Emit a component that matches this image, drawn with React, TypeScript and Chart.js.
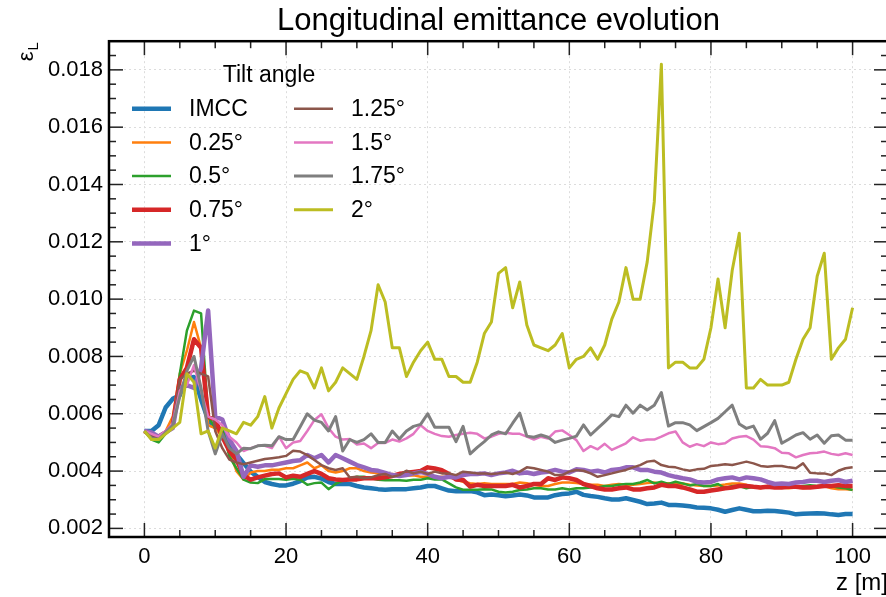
import React, { useEffect, useRef } from "react";
import { Chart, registerables } from "chart.js";

Chart.register(...registerables);

const FONT = "'Liberation Sans', Arial, Helvetica, sans-serif";

const Z = [
  0, 1, 2, 3, 4, 5, 6, 7, 8, 9, 10, 11, 12, 13, 14, 15, 16, 17, 18, 19, 20,
  21, 22, 23, 24, 25, 26, 27, 28, 29, 30, 31, 32, 33, 34, 35, 36, 37, 38, 39, 40,
  41, 42, 43, 44, 45, 46, 47, 48, 49, 50, 51, 52, 53, 54, 55, 56, 57, 58, 59, 60,
  61, 62, 63, 64, 65, 66, 67, 68, 69, 70, 71, 72, 73, 74, 75, 76, 77, 78, 79, 80,
  81, 82, 83, 84, 85, 86, 87, 88, 89, 90, 91, 92, 93, 94, 95, 96, 97, 98, 99, 100,
];

const IMCC = [
  0.0054, 0.0054, 0.0056, 0.00622, 0.00652, 0.00665, 0.00725, 0.00728, 0.0065, 0.00578,
  0.00552, 0.0054, 0.00492, 0.00458, 0.00428, 0.00398, 0.0038, 0.00362, 0.00355, 0.0035,
  0.0035, 0.00356, 0.00365, 0.00378, 0.0038, 0.00374, 0.00362, 0.00355, 0.00355, 0.00355,
  0.00348, 0.00343, 0.0034, 0.00337, 0.00335, 0.00337, 0.00337, 0.00337, 0.0034, 0.00343,
  0.00348, 0.00348, 0.0034, 0.00332, 0.0033, 0.0033, 0.0033, 0.00326, 0.00316, 0.00318,
  0.00316, 0.00312, 0.00315, 0.00318, 0.00315, 0.00308, 0.00308, 0.00308, 0.00316, 0.0032,
  0.00322, 0.00328, 0.00317, 0.00313, 0.0031, 0.00305, 0.00301, 0.00301, 0.00305, 0.00299,
  0.00293, 0.00285, 0.00287, 0.0029, 0.00282, 0.00282, 0.0028, 0.00277, 0.00273, 0.00272,
  0.0027, 0.00265, 0.00258, 0.00264, 0.0027, 0.00265, 0.0026, 0.0026, 0.00262, 0.00261,
  0.00258, 0.00255, 0.00249, 0.00251, 0.00252, 0.00253, 0.00252, 0.00249, 0.00247, 0.0025,
  0.0025,
];

const TILT_025 = [
  0.0054, 0.00517, 0.00512, 0.0054, 0.0059, 0.0074, 0.0082, 0.0092, 0.0083, 0.0056,
  0.0055, 0.0052, 0.0047, 0.004, 0.0037, 0.00395, 0.004, 0.004, 0.00405, 0.00405,
  0.0041, 0.0041, 0.0042, 0.0043, 0.0041, 0.0042, 0.004, 0.00395, 0.004, 0.0041,
  0.0041, 0.004, 0.00395, 0.00392, 0.00385, 0.0039, 0.00385, 0.00385, 0.00385, 0.0038,
  0.0038, 0.00378, 0.0038, 0.00378, 0.0037, 0.00363, 0.00358, 0.00355, 0.00358, 0.00355,
  0.00355, 0.00355, 0.00355, 0.0036, 0.00358, 0.00352, 0.00348, 0.00348, 0.00355, 0.0036,
  0.0036, 0.00358, 0.00355, 0.00352, 0.00352, 0.00348, 0.00352, 0.00355, 0.00352, 0.00352,
  0.00355, 0.00358, 0.0036, 0.00355, 0.00358, 0.00355, 0.00357, 0.00352, 0.0035, 0.00348,
  0.00348, 0.0035, 0.00353, 0.00357, 0.00357, 0.00352, 0.00345, 0.0034, 0.00348, 0.00345,
  0.00343, 0.0034, 0.00343, 0.0034, 0.00343, 0.00343, 0.00348, 0.0034, 0.00337, 0.00337,
  0.00335,
];

const TILT_05 = [
  0.0054, 0.0051, 0.005, 0.0053, 0.0055, 0.0074, 0.0089, 0.0096, 0.0095, 0.0059,
  0.0055, 0.0055, 0.0045, 0.0041, 0.0037, 0.0036, 0.00358, 0.00372, 0.00372, 0.00372,
  0.0037, 0.00373, 0.0037, 0.00352, 0.00358, 0.0036, 0.00337, 0.00355, 0.00367, 0.00375,
  0.0038, 0.0038, 0.00375, 0.0037, 0.00368, 0.00368, 0.00368, 0.00366, 0.0037, 0.0037,
  0.00375, 0.00371, 0.00371, 0.00357, 0.00343, 0.00335, 0.00335, 0.00335, 0.00337, 0.00336,
  0.00328, 0.00325, 0.00328, 0.00334, 0.00336, 0.0034, 0.0034, 0.00336, 0.00336, 0.0034,
  0.00336, 0.0034, 0.0034, 0.00343, 0.00343, 0.00348, 0.00348, 0.00352, 0.00355, 0.00355,
  0.0036, 0.00369, 0.00357, 0.00363, 0.00355, 0.00363, 0.00357, 0.0035, 0.00355, 0.00348,
  0.00348, 0.00355, 0.0034, 0.00348, 0.00348, 0.0034, 0.00345, 0.00343, 0.00345, 0.00348,
  0.00345, 0.00343, 0.00345, 0.00348, 0.00351, 0.00348, 0.00351, 0.00348, 0.00343, 0.0034,
  0.00334,
];

const TILT_075 = [
  0.0054, 0.00525, 0.0052, 0.00535, 0.0056, 0.0072, 0.0076, 0.0086, 0.0083, 0.0059,
  0.0058, 0.0052, 0.0047, 0.0044, 0.00385, 0.0037, 0.00378, 0.00384, 0.0039, 0.00392,
  0.00378, 0.00384, 0.0038, 0.0039, 0.004, 0.0039, 0.00375, 0.00371, 0.00369, 0.00371,
  0.00371, 0.00375, 0.00375, 0.00375, 0.00378, 0.00383, 0.0039, 0.00394, 0.00397, 0.004,
  0.00413, 0.00409, 0.00403, 0.0039, 0.00371, 0.00369, 0.00346, 0.00352, 0.00348, 0.00348,
  0.00348, 0.00348, 0.00352, 0.00343, 0.00348, 0.00355, 0.00355, 0.00375, 0.00369, 0.00378,
  0.00375, 0.00369, 0.00355, 0.00348, 0.0034, 0.00336, 0.00336, 0.0034, 0.00343, 0.00336,
  0.00336, 0.0034, 0.00343, 0.00352, 0.00348, 0.00348, 0.00343, 0.00336, 0.00328, 0.00328,
  0.00332, 0.00336, 0.0034, 0.00343, 0.00348, 0.00348, 0.00345, 0.00343, 0.00345, 0.00343,
  0.00343, 0.00345, 0.00345, 0.00343, 0.00343, 0.00345, 0.00348, 0.00348, 0.00351, 0.00348,
  0.00348,
];

const TILT_1 = [
  0.0054, 0.00535, 0.0052, 0.00535, 0.0055, 0.0069, 0.007, 0.0069, 0.0076, 0.0096,
  0.0059, 0.0058, 0.0051, 0.0047, 0.0038, 0.0042, 0.00415, 0.0042, 0.0042, 0.00425,
  0.0043, 0.00435, 0.00438, 0.00456, 0.00445, 0.00456, 0.0043, 0.00456, 0.00445, 0.00433,
  0.00421, 0.00413, 0.00404, 0.00401, 0.00394, 0.00386, 0.00383, 0.00386, 0.00392, 0.00397,
  0.0039, 0.0038, 0.00375, 0.0038, 0.00378, 0.00386, 0.0039, 0.0039, 0.00392, 0.00386,
  0.00392, 0.00395, 0.00401, 0.00392, 0.00395, 0.0039, 0.00395, 0.00398, 0.00404, 0.00398,
  0.00395, 0.00406, 0.00404, 0.00398, 0.00401, 0.00395, 0.00404, 0.00406, 0.00413, 0.00413,
  0.00404, 0.00404, 0.00398, 0.00395, 0.00386, 0.0038, 0.00375, 0.00371, 0.00362, 0.0036,
  0.00362, 0.00371, 0.00375, 0.00378, 0.00371, 0.00378, 0.00375, 0.00371, 0.00362, 0.00355,
  0.00357, 0.00355, 0.0036, 0.00362, 0.00366, 0.00366, 0.00362, 0.00366, 0.00369, 0.00362,
  0.00366,
];

const TILT_125 = [
  0.0054, 0.00525, 0.00515, 0.00535, 0.00555, 0.0072, 0.0074, 0.0075, 0.0074, 0.0073,
  0.0054, 0.0048, 0.0044, 0.0043, 0.00424, 0.0043, 0.00436, 0.00442, 0.00445, 0.00448,
  0.00453, 0.00471, 0.00468, 0.00456, 0.00439, 0.00421, 0.0041, 0.00404, 0.0041, 0.00378,
  0.0038, 0.00375, 0.00378, 0.00386, 0.0039, 0.0038, 0.00386, 0.00401, 0.00392, 0.00398,
  0.0039, 0.00398, 0.00392, 0.00392, 0.00386, 0.00398, 0.00395, 0.00392, 0.00392, 0.0039,
  0.00392, 0.00395, 0.0039, 0.00398, 0.00413, 0.0041, 0.00404, 0.00398, 0.00386, 0.00386,
  0.00398, 0.00404, 0.00401, 0.00392, 0.0038, 0.00386, 0.00392, 0.00398, 0.00404, 0.00413,
  0.00421, 0.00433, 0.00436, 0.00421, 0.00415, 0.00413, 0.00406, 0.00401, 0.00406, 0.00408,
  0.00418, 0.0042, 0.00424, 0.00421, 0.00427, 0.00433, 0.00427, 0.00418, 0.00415, 0.00418,
  0.00418, 0.00413, 0.0041, 0.00427, 0.00394, 0.00392, 0.00392, 0.00386, 0.00401, 0.0041,
  0.00413,
];

const TILT_15 = [
  0.0054, 0.0053, 0.0052, 0.0054, 0.00565, 0.0068, 0.007, 0.0077, 0.0068, 0.0059,
  0.0058, 0.0056, 0.0052, 0.005, 0.0047, 0.0048, 0.00488, 0.00488, 0.0048, 0.0052,
  0.0048, 0.005, 0.00505, 0.0054, 0.00578, 0.00598, 0.0055, 0.0052, 0.0051, 0.00512,
  0.00493, 0.00496, 0.0048, 0.00498, 0.00498, 0.0051, 0.00503, 0.00514, 0.0053, 0.0056,
  0.0054, 0.0053, 0.00522, 0.0052, 0.00526, 0.0053, 0.00534, 0.0053, 0.00514, 0.0052,
  0.0053, 0.00534, 0.0053, 0.0053, 0.0052, 0.0051, 0.0052, 0.00514, 0.00538, 0.00542,
  0.00526, 0.00508, 0.0047, 0.00487, 0.00476, 0.00495, 0.00474, 0.00485, 0.00497, 0.00518,
  0.00506, 0.0051, 0.0051, 0.0052, 0.00532, 0.00538, 0.005, 0.00485, 0.00494, 0.00487,
  0.005, 0.00494, 0.00497, 0.00514, 0.0052, 0.00522, 0.0051, 0.00487, 0.00485, 0.0048,
  0.00464, 0.00462, 0.00448, 0.00456, 0.00462, 0.00464, 0.00468, 0.0046, 0.00456, 0.00462,
  0.00456,
];

const TILT_175 = [
  0.0054, 0.00515, 0.0051, 0.00535, 0.0056, 0.0066, 0.0075, 0.008, 0.0069, 0.0054,
  0.0046, 0.0053, 0.0048, 0.0046, 0.0048, 0.00478, 0.00488, 0.0049, 0.00488, 0.0052,
  0.0051, 0.0051, 0.00555, 0.006, 0.00578, 0.0057, 0.0054, 0.0059, 0.0047, 0.0051,
  0.005, 0.0051, 0.0053, 0.005, 0.005, 0.0054, 0.00512, 0.0054, 0.00556, 0.00563,
  0.006, 0.00553, 0.00553, 0.00553, 0.00503, 0.00556, 0.0046, 0.00483, 0.00503, 0.00526,
  0.00537, 0.0053, 0.00567, 0.00602, 0.00522, 0.00518, 0.00526, 0.00518, 0.005, 0.00508,
  0.00514, 0.00522, 0.00561, 0.00526, 0.00549, 0.00572, 0.00596, 0.0059, 0.0063, 0.00602,
  0.0063, 0.00613, 0.0063, 0.00674, 0.00557, 0.00569, 0.00569, 0.00561, 0.00541, 0.00555,
  0.00569, 0.00584, 0.00607, 0.0063, 0.00564, 0.00549, 0.00557, 0.00511, 0.00532, 0.00576,
  0.00497, 0.00511, 0.00526, 0.00534, 0.00511, 0.00526, 0.00497, 0.00523, 0.00526, 0.00508,
  0.00508,
];

const TILT_2 = [
  0.0054, 0.0051, 0.0051, 0.0053, 0.0055, 0.0057, 0.0074, 0.0071, 0.0053, 0.0054,
  0.0048, 0.0055, 0.0054, 0.0053, 0.0057, 0.0056, 0.0059, 0.0066, 0.0055, 0.0062,
  0.0067, 0.0072, 0.0075, 0.0074, 0.0069, 0.0076, 0.0068, 0.0071, 0.0076, 0.0074,
  0.0072, 0.008, 0.0089, 0.0105, 0.0099, 0.0083, 0.0083, 0.0073, 0.0078, 0.0082,
  0.0085, 0.0079, 0.0079, 0.0073, 0.0073, 0.0071, 0.0071, 0.0078, 0.0088, 0.0092,
  0.0109, 0.0111, 0.0097, 0.0106, 0.0091, 0.0084, 0.0083, 0.0082, 0.0084, 0.0088,
  0.0076, 0.0079, 0.008, 0.0083, 0.0079, 0.0084, 0.0093, 0.0099, 0.0111, 0.01,
  0.01, 0.0113, 0.0134, 0.0182, 0.0076, 0.0078, 0.0078, 0.0076, 0.0076, 0.0079,
  0.009, 0.0107, 0.009, 0.011, 0.0123, 0.0069, 0.0069, 0.0072, 0.007, 0.007,
  0.007, 0.0071, 0.0079, 0.0086, 0.009, 0.0108, 0.0116, 0.0079, 0.0083, 0.0086,
  0.0097,
];

const SERIES = [IMCC, TILT_025, TILT_05, TILT_075, TILT_1, TILT_125, TILT_15, TILT_175, TILT_2];
const LABELS = ["IMCC", "0.25°", "0.5°", "0.75°", "1°", "1.25°", "1.5°", "1.75°", "2°"];
const COLORS = [
  "#1f77b4", "#ff7f0e", "#2ca02c", "#d62728", "#9467bd",
  "#8c564b", "#e377c2", "#7f7f7f", "#bcbd22",
];
const WIDTHS = [4.5, 2.5, 2.5, 4.5, 4.5, 2.5, 2.5, 3, 3];

const X_TICKS = [0, 20, 40, 60, 80, 100];
const Y_TICKS = [0.002, 0.004, 0.006, 0.008, 0.01, 0.012, 0.014, 0.016, 0.018];
const X_MIN = -5;
const X_MAX = 105;
const Y_MIN = 0.0017;
const Y_MAX = 0.019;

const TITLE = "Longitudinal emittance evolution";
const LEGEND_TITLE = "Tilt angle";
const X_LABEL = "z [m]";

const framePlugin = {
  id: "frameLegend",
  afterDraw(chart: any) {
    const { ctx, chartArea: a, scales } = chart;
    const xs = scales.x;
    const ys = scales.y;
    ctx.save();

    // inward ticks on all four sides
    ctx.strokeStyle = "#222";
    ctx.lineWidth = 1.5;
    const MAJ = 14;
    const MIN = 7;
    const seg = (x1: number, y1: number, x2: number, y2: number) => {
      ctx.beginPath();
      ctx.moveTo(x1, y1);
      ctx.lineTo(x2, y2);
      ctx.stroke();
    };
    for (let i = -1; i <= 21; i++) {
      const v = i * 5;
      if (v <= X_MIN || v >= X_MAX) continue;
      const px = xs.getPixelForValue(v);
      const len = v % 20 === 0 ? MAJ : MIN;
      seg(px, a.bottom, px, a.bottom - len);
      seg(px, a.top, px, a.top + len);
    }
    for (let i = 3; i <= 38; i++) {
      const v = i * 0.0005;
      if (v <= Y_MIN || v >= Y_MAX - 1e-9) continue;
      const py = ys.getPixelForValue(v);
      const len = i % 4 === 0 ? MAJ : MIN;
      seg(a.left, py, a.left + len, py);
      seg(a.right, py, a.right - len, py);
    }

    // frame
    ctx.strokeStyle = "#000";
    ctx.lineWidth = 2.5;
    ctx.strokeRect(a.left, a.top, a.right - a.left, a.bottom - a.top);

    // legend
    ctx.fillStyle = "#000";
    ctx.font = `23px ${FONT}`;
    ctx.textBaseline = "middle";
    ctx.textAlign = "center";
    ctx.fillText(LEGEND_TITLE, a.left + 160, a.top + 34);
    ctx.textAlign = "left";
    LABELS.forEach((lab, i) => {
      const col = i < 5 ? 0 : 1;
      const row = i < 5 ? i : i - 5;
      const x0 = a.left + (col ? 185 : 23);
      const y = a.top + 67.5 + row * 33.7;
      ctx.strokeStyle = COLORS[i];
      ctx.lineWidth = WIDTHS[i];
      ctx.lineCap = "butt";
      seg(x0, y, x0 + 39, y);
      ctx.fillStyle = "#000";
      ctx.fillText(lab, x0 + 57, y + 1);
    });

    // y axis label (epsilon_L), rotated
    ctx.save();
    ctx.translate(33, a.top + 1);
    ctx.rotate(-Math.PI / 2);
    ctx.textBaseline = "alphabetic";
    ctx.textAlign = "right";
    ctx.font = `15px ${FONT}`;
    const lw = ctx.measureText("L").width;
    ctx.fillText("L", 0, 5);
    ctx.font = `22px ${FONT}`;
    ctx.fillText("ε", -lw - 1, 0);
    ctx.restore();

    // x axis label
    ctx.font = `24px ${FONT}`;
    ctx.textAlign = "right";
    ctx.textBaseline = "alphabetic";
    ctx.fillText(X_LABEL, a.right, 590);

    ctx.restore();
  },
};

export default function App() {
  const ref = useRef<HTMLCanvasElement | null>(null);

  useEffect(() => {
    if (!ref.current) return;
    const chart = new Chart(ref.current, {
      type: "line",
      data: {
        datasets: SERIES.map((vals, i) => ({
          label: LABELS[i],
          data: vals.map((y, j) => ({ x: Z[j], y })),
          borderColor: COLORS[i],
          backgroundColor: COLORS[i],
          borderWidth: WIDTHS[i],
          pointRadius: 0,
          tension: 0,
          fill: false,
          borderJoinStyle: "round" as const,
          order: SERIES.length - i,
        })),
      },
      options: {
        animation: false,
        responsive: false,
        devicePixelRatio: 1,
        layout: { padding: { left: 0, right: 4, top: 0, bottom: 0 } },
        plugins: {
          legend: { display: false },
          tooltip: { enabled: false },
          title: {
            display: true,
            fullSize: false,
            text: TITLE,
            color: "#000",
            font: { family: FONT, size: 31, weight: "normal" as const, lineHeight: 1.2 },
            padding: { top: 3, bottom: 1 },
          },
        },
        scales: {
          x: {
            type: "linear",
            min: X_MIN,
            max: X_MAX,
            afterBuildTicks: (s: any) => {
              s.ticks = X_TICKS.map((v) => ({ value: v }));
            },
            afterFit: (s: any) => {
              s.height = 60;
            },
            grid: { color: "#dcdcdc", lineWidth: 1, drawTicks: false },
            border: { display: false, dash: [2, 3] },
            ticks: {
              color: "#000",
              font: { family: FONT, size: 22 },
              padding: 7,
              maxRotation: 0,
              autoSkip: false,
              callback: (v: any) => String(v),
            },
          },
          y: {
            type: "linear",
            min: Y_MIN,
            max: Y_MAX,
            afterBuildTicks: (s: any) => {
              s.ticks = Y_TICKS.map((v) => ({ value: v }));
            },
            afterFit: (s: any) => {
              s.width = 109;
            },
            grid: { color: "#dcdcdc", lineWidth: 1, drawTicks: false },
            border: { display: false, dash: [2, 3] },
            ticks: {
              color: "#000",
              font: { family: FONT, size: 22 },
              padding: 6,
              autoSkip: false,
              callback: (v: any) => Number(v).toFixed(3),
            },
          },
        },
      },
      plugins: [framePlugin],
    } as any);
    return () => chart.destroy();
  }, []);

  return (
    <div
      style={{
        position: "fixed",
        left: 0,
        top: 0,
        width: 886,
        height: 597,
        overflow: "hidden",
        background: "#fff",
      }}
    >
      <canvas
        ref={ref}
        width={892}
        height={597}
        style={{ display: "block", width: 892, height: 597 }}
      />
    </div>
  );
}
